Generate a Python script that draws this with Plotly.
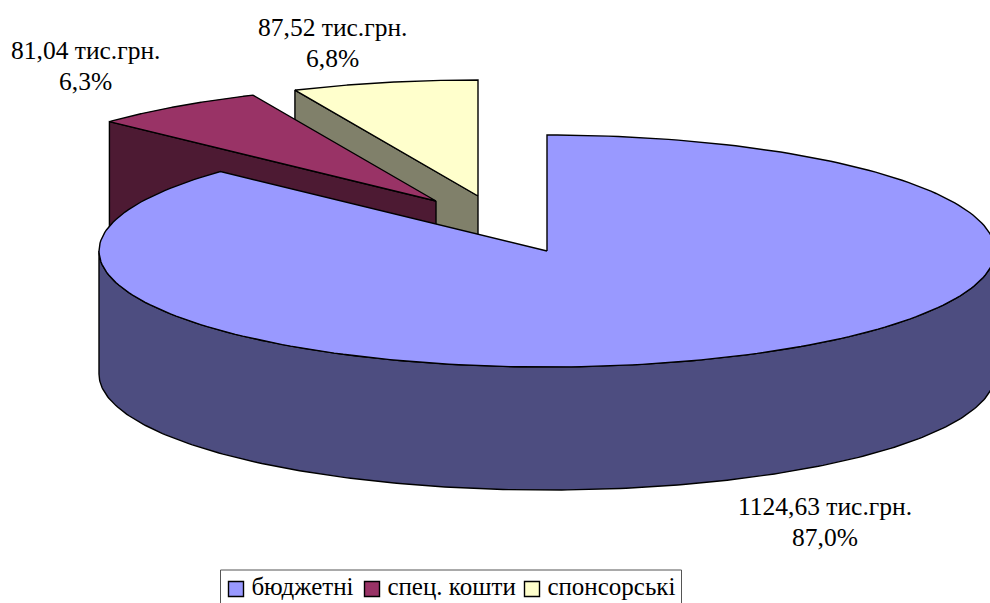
import numpy as np
import plotly.graph_objects as go

categories = ["бюджетні", "спец. кошти", "спонсорські"]
values = [1124.63, 81.04, 87.52]
shares = [87.0, 6.3, 6.8]
top_colors = ["#9999FF", "#993366", "#FFFFCC"]
side_colors = ["#4D4D80", "#4D1A33", "#80806A"]

CX, CY, RX, RY, DEPTH = 547, 251, 448, 116, 123
offsets = [(0, 0), (-111, -50), (-69, -55)]
label_pos = [(825, 522), (85, 66), (332, 43)]
legend_swatch_x = [236, 372, 532]
LEGEND_Y = 589
FONT = "Liberation Serif"
FS = 25.5
LEGEND_FS = 25

# Slice boundaries follow the printed percentages (they add to 100,1 after rounding)
ends = np.minimum(np.cumsum(shares) / 100, 1.0) * 2 * np.pi
starts = np.concatenate([[0], ends[:-1]])


def arc(a0, a1, ox, oy, dy=0):
    t = np.linspace(a0, a1, 240)
    return CX + ox + RX * np.sin(t), CY + oy + dy - RY * np.cos(t)


def poly(fig, xs, ys, fill):
    fig.add_trace(go.Scatter(
        x=list(xs), y=list(ys), mode="lines", fill="toself", fillcolor=fill,
        line=dict(color="#000000", width=1.4), hoverinfo="skip", showlegend=False))


fig = go.Figure()

# Back slices first: yellow, then maroon, then the large slice on top.
for i in (2, 1, 0):
    ox, oy = offsets[i]
    a0, a1 = starts[i], ends[i]
    ax, ay = CX + ox, CY + oy
    if i == 0:
        tx, ty = arc(np.pi / 2, 3 * np.pi / 2, ox, oy)
        bx, by = arc(3 * np.pi / 2, np.pi / 2, ox, oy, DEPTH)
        poly(fig, np.r_[tx, bx, tx[0]], np.r_[ty, by, ty[0]], side_colors[i])
    else:
        ex, ey = arc(a0, a0, ox, oy)
        poly(fig, [ax, ex[0], ex[0], ax, ax],
             [ay, ey[0], ey[0] + DEPTH, ay + DEPTH, ay], side_colors[i])
    rx_, ry_ = arc(a0, a1, ox, oy)
    poly(fig, np.r_[ax, rx_, ax], np.r_[ay, ry_, ay], top_colors[i])

# Legend: a framed row of swatches and names, placed as in the reference
fig.add_shape(type="rect", xref="x", yref="y", x0=220.5, x1=681.5, y0=570, y1=640,
              line=dict(color="#555555", width=1), layer="below")
fig.add_trace(go.Scatter(
    x=legend_swatch_x, y=[LEGEND_Y] * len(categories), mode="markers+text",
    text=["\u2009" + c for c in categories], textposition="middle right",
    hoverinfo="skip", showlegend=False,
    textfont=dict(family=FONT, size=LEGEND_FS, color="#000000"),
    marker=dict(symbol="square", size=15, color=top_colors,
                line=dict(color="#000000", width=1.4))))


def fmt(v):
    return f"{v:.2f}".replace(".", ",")


for v, s, (lx, ly) in zip(values, shares, label_pos):
    for text, dy in ((f"{fmt(v)} тис.грн.", -15.5), (f"{str(s).replace('.', ',')}%", 15.5)):
        fig.add_annotation(
            x=lx, y=ly + dy, xref="x", yref="y", showarrow=False, align="center",
            text=text, font=dict(family=FONT, size=FS, color="#000000"))

fig.update_layout(
    width=990, height=603, margin=dict(l=0, r=0, t=0, b=0, autoexpand=False),
    paper_bgcolor="#FFFFFF", plot_bgcolor="#FFFFFF", autosize=False, showlegend=False,
    xaxis=dict(range=[0, 990], visible=False, fixedrange=True),
    yaxis=dict(range=[603, 0], visible=False, fixedrange=True),
)
fig.write_html("out.html", config={"displayModeBar": False},
               post_script="document.body.style.margin='0';")
